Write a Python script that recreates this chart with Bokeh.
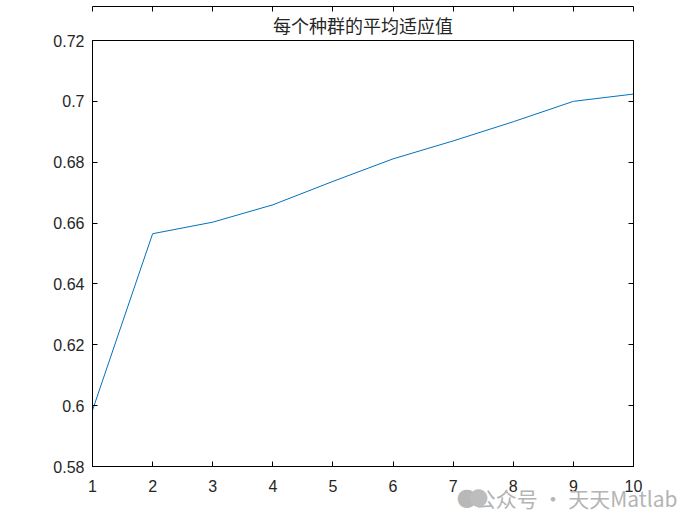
from bokeh.plotting import figure
from bokeh.models import Range1d, LinearAxis, FixedTicker, Title
from bokeh.embed import file_html
from bokeh.resources import INLINE

x_values = [1, 2, 3, 4, 5, 6, 7, 8, 9, 10]
avg_fitness = [0.5985, 0.6565, 0.6603, 0.6660, 0.6737, 0.6811, 0.6870, 0.6933, 0.7000, 0.7024]
x_ticks = [1, 2, 3, 4, 5, 6, 7, 8, 9, 10]
y_ticks = [0.58, 0.60, 0.62, 0.64, 0.66, 0.68, 0.70, 0.72]
y_tick_labels = {0.58: "0.58", 0.60: "0.6", 0.62: "0.62", 0.64: "0.64",
                 0.66: "0.66", 0.68: "0.68", 0.70: "0.7", 0.72: "0.72"}
title_text = "每个种群的平均适应值"
watermark = "公众号 · 天天Matlab"

p = figure(width=700, height=525, output_backend="svg", toolbar_location=None,
           x_range=Range1d(1, 10), y_range=Range1d(0.58, 0.72),
           x_axis_location=None, y_axis_location=None,
           min_border_left=92, min_border_right=67, min_border_top=40, min_border_bottom=59)
p.background_fill_color = "white"
p.border_fill_color = "white"
p.outline_line_color = "black"
p.outline_line_width = 1
p.grid.visible = False

t = Title(text=title_text, align="center", text_font="Noto Sans CJK SC",
          text_font_size="18px", text_font_style="normal", text_color="#262626",
          standoff=6)
p.add_layout(t, "above")

def mk_axis(loc, ticks, standoff=6, labels=True):
    ax = LinearAxis(ticker=FixedTicker(ticks=ticks))
    ax.axis_line_color = "black"
    ax.major_tick_in = 5
    ax.major_tick_out = 0
    ax.minor_tick_line_color = None
    ax.major_tick_line_color = "black"
    ax.major_label_text_font = "Liberation Sans"
    ax.major_label_text_font_size = "16px"
    ax.major_label_text_color = "#262626"
    ax.major_label_standoff = standoff
    if not labels:
        ax.major_label_overrides = {tk: "" for tk in ticks}
        ax.major_label_standoff = 0
    p.add_layout(ax, loc)
    return ax

xb = mk_axis("below", x_ticks, standoff=13)
yl = mk_axis("left", y_ticks, standoff=8)
yl.major_label_overrides = y_tick_labels
mk_axis("above", x_ticks, labels=False)
mk_axis("right", y_ticks, labels=False)

p.line(x_values, avg_fitness, line_color="#0072BD", line_width=1)

# watermark, drawn as titles below the plot so it is not clipped by the frame
wm = Title(text=watermark, align="right", vertical_align="top", offset=-44, standoff=-24,
           text_font="Noto Sans CJK SC", text_font_size="21px", text_font_style="normal",
           text_color="#b4b4b4")
p.add_layout(wm, "below")
icon1 = Title(text="●", align="right", vertical_align="top", offset=156, standoff=-40,
              text_font="DejaVu Sans", text_font_size="24px", text_font_style="normal",
              text_color="#b8b8b8")
p.add_layout(icon1, "below")
icon2 = Title(text="●", align="right", vertical_align="top", offset=145, standoff=-40,
              text_font="DejaVu Sans", text_font_size="23px", text_font_style="normal",
              text_color="#bdbdbd")
p.add_layout(icon2, "below")

open("out.html", "w").write(file_html(p, INLINE))
